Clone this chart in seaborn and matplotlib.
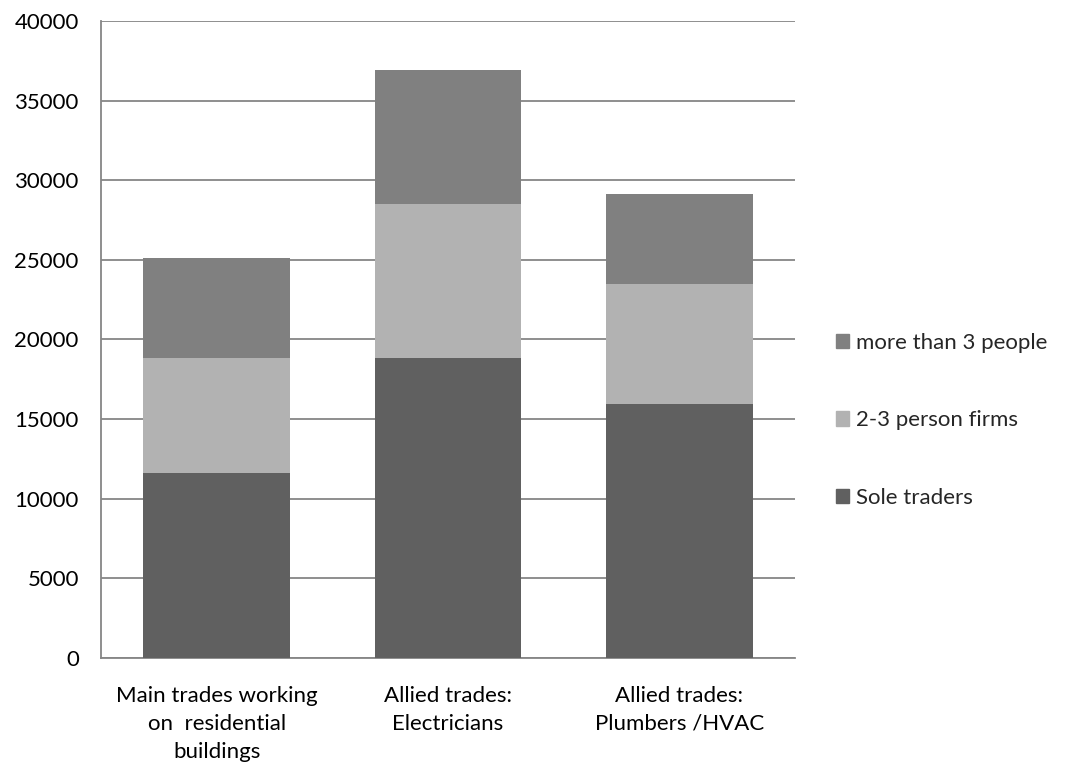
import matplotlib
matplotlib.use("Agg")
import matplotlib.pyplot as plt
import matplotlib.patches as mpatches
import pandas as pd
import seaborn as sns
import numpy as np

categories = ["Main trades working\non  residential\nbuildings",
              "Allied trades:\nElectricians",
              "Allied trades:\nPlumbers /HVAC"]
sole_traders = [11580, 18810, 15940]
two_three = [7250, 9710, 7540]
more_than_3 = [6270, 8400, 5670]

series_names = ["Sole traders", "2-3 person firms", "more than 3 people"]
colors = ["#606060", "#b2b2b2", "#808080"]

sns.set_theme(style="white")
plt.rcParams['font.family'] = ['Lato', 'DejaVu Sans']

df = pd.DataFrame({"cat": categories,
                   "Sole traders": sole_traders,
                   "2-3 person firms": two_three,
                   "more than 3 people": more_than_3})
# cumulative tops for stacking
df["top1"] = df["Sole traders"]
df["top2"] = df["top1"] + df["2-3 person firms"]
df["top3"] = df["top2"] + df["more than 3 people"]

fig = plt.figure(figsize=(10.75, 7.74), dpi=100)
ax = fig.add_axes([0.094, 0.15, 0.6455, 0.823])

# draw tallest first so the lower segments sit on top
for col, c in zip(["top3", "top2", "top1"], colors[::-1]):
    sns.barplot(data=df, x="cat", y=col, color=c, width=0.635, ax=ax,
                saturation=1, zorder=3, linewidth=0)

ax.set_ylim(0, 40000)
ax.set_xlim(-0.5, 2.5)
ax.set_yticks(np.arange(0, 40001, 5000))
ax.yaxis.grid(True, color="#868686", linewidth=1.3, zorder=0)
ax.set_axisbelow(True)
ax.set_xlabel("")
ax.set_ylabel("")

for s in ["top", "right"]:
    ax.spines[s].set_visible(False)
for s in ["left", "bottom"]:
    ax.spines[s].set_color("#868686")
    ax.spines[s].set_linewidth(1.3)

ax.tick_params(axis="y", length=0, labelsize=16, pad=16, colors="black")
ax.tick_params(axis="x", length=0, labelsize=16, pad=20, colors="black")
for lbl in ax.get_xticklabels():
    lbl.set_linespacing(1.5)

handles = [mpatches.Patch(color=colors[2], label=series_names[2]),
           mpatches.Patch(color=colors[1], label=series_names[1]),
           mpatches.Patch(color=colors[0], label=series_names[0])]
fig.legend(handles=handles, loc="center left", bbox_to_anchor=(0.759, 0.457),
           frameon=False, fontsize=16, handlelength=0.6, handleheight=0.6,
           handletextpad=0.3, labelspacing=2.6)

fig.savefig("out.png", dpi=100)
